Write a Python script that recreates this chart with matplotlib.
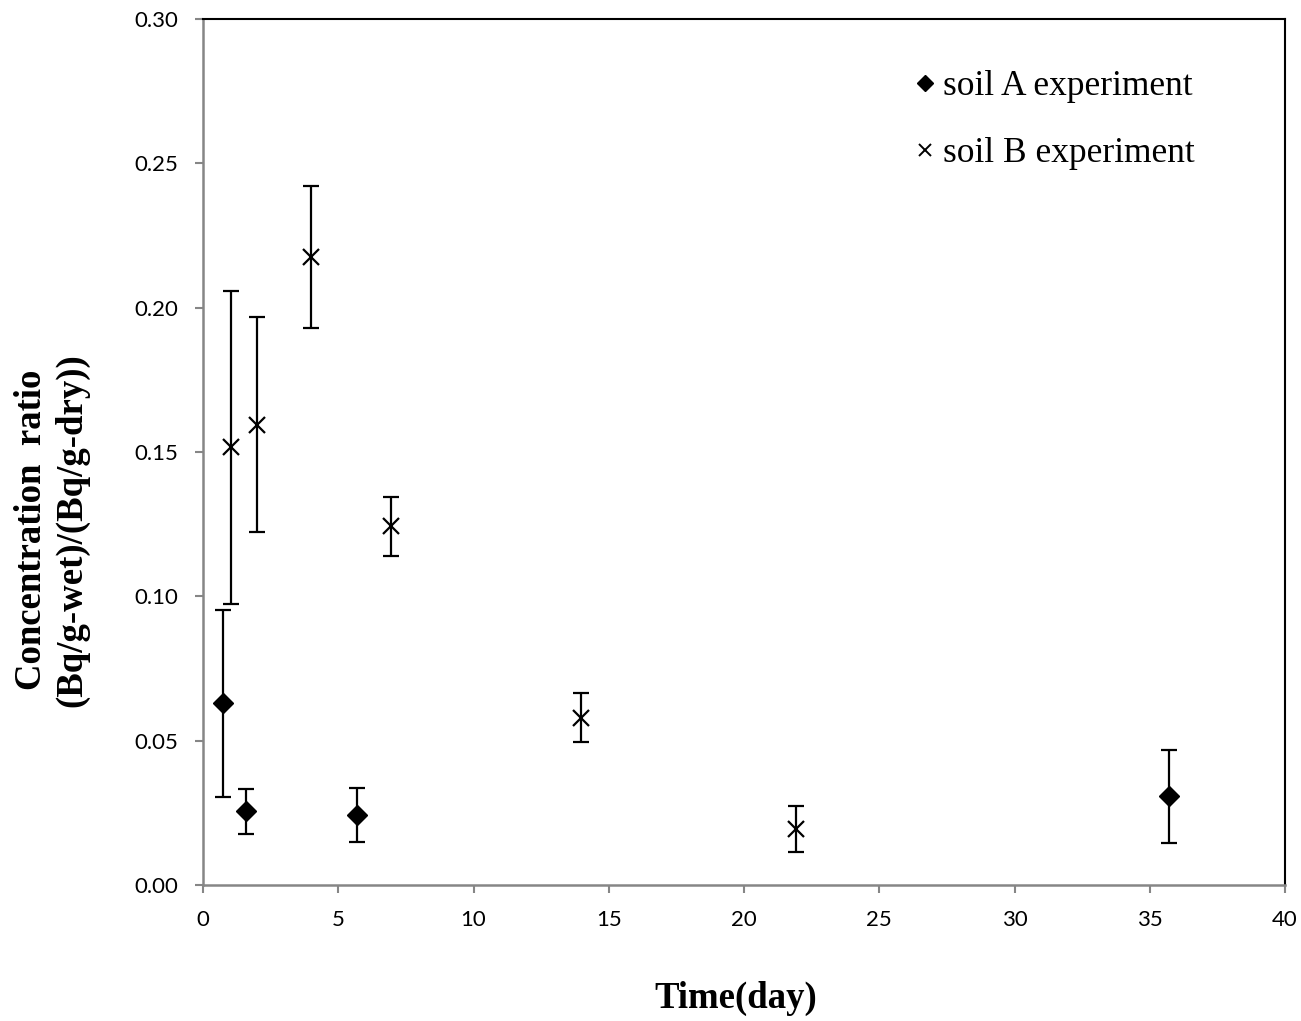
import matplotlib
matplotlib.use("Agg")
import matplotlib.pyplot as plt
import numpy as np
from matplotlib.lines import Line2D

# Data
a_time = [0.74, 1.6, 5.7, 35.7]
a_val = [0.063, 0.0255, 0.0242, 0.0308]
a_low = [0.0305, 0.0177, 0.0149, 0.0145]
a_high = [0.0953, 0.0333, 0.0336, 0.0468]

b_time = [1.04, 2.0, 4.0, 6.95, 13.97, 21.92]
b_val = [0.1517, 0.1595, 0.2177, 0.1243, 0.0578, 0.0195]
b_low = [0.0973, 0.1224, 0.1929, 0.1140, 0.0495, 0.0114]
b_high = [0.2057, 0.1967, 0.2421, 0.1344, 0.0665, 0.0274]

xticks = [0, 5, 10, 15, 20, 25, 30, 35, 40]
yticks = [0.00, 0.05, 0.10, 0.15, 0.20, 0.25, 0.30]
ytick_labels = ["0.00", "0.05", "0.10", "0.15", "0.20", "0.25", "0.30"]

fig = plt.figure(figsize=(13.01, 10.21), dpi=100)
ax = fig.add_axes([203/1301, 136/1021, (1285-203)/1301, (885-19)/1021])

def err(v, lo, hi):
    v = np.array(v); return [v - np.array(lo), np.array(hi) - v]

ax.errorbar(a_time, a_val, yerr=err(a_val, a_low, a_high), fmt='D', color='black',
            markersize=10, capsize=6, elinewidth=1.6, capthick=1.6, label='soil A experiment')
ax.errorbar(b_time, b_val, yerr=err(b_val, b_low, b_high), fmt='x', color='black',
            markersize=11, markeredgewidth=1.6, capsize=6, elinewidth=1.6, capthick=1.6,
            label='soil B experiment')

ax.set_xlim(0, 40)
ax.set_ylim(0, 0.30)
ax.set_xticks(xticks)
ax.set_xticklabels([str(t) for t in xticks])
ax.set_yticks(yticks)
ax.set_yticklabels(ytick_labels)

for s in ['left', 'bottom']:
    ax.spines[s].set_color('#868686')
    ax.spines[s].set_linewidth(1.8)
for s in ['top', 'right']:
    ax.spines[s].set_color('black')
    ax.spines[s].set_linewidth(1.5)

ax.tick_params(axis='both', direction='out', length=6, width=1.5, color='#868686',
               labelsize=16)
ax.tick_params(axis='y', pad=12)
ax.tick_params(axis='x', pad=12)
for lab in ax.get_xticklabels() + ax.get_yticklabels():
    lab.set_fontfamily('Lato')

# Legend
handles = [Line2D([], [], marker='D', linestyle='none', color='black', markersize=8),
           Line2D([], [], marker='x', linestyle='none', color='black', markersize=9, markeredgewidth=1.4)]
leg = ax.legend(handles, ['soil A experiment', 'soil B experiment'], loc='upper left',
                bbox_to_anchor=(0.646, 0.957), frameon=False, handlelength=0.5, handletextpad=0.25,
                labelspacing=0.95, borderaxespad=0,
                prop={'family': 'Liberation Serif', 'size': 25.5})

fig.text(736/1301, 1 - 998/1021, 'Time(day)', ha='center', va='center',
         fontsize=26.5, fontweight='bold', family='Liberation Serif')
fig.text(32/1301, 1 - 530/1021, 'Concentration  ratio', ha='center', va='center', rotation=90,
         fontsize=26.5, fontweight='bold', family='Liberation Serif')
fig.text(72/1301, 1 - 530/1021, '(Bq/g-wet)/(Bq/g-dry))', ha='center', va='center', rotation=90,
         fontsize=26.5, fontweight='bold', family='Liberation Serif')

fig.savefig('out.png', dpi=100)
